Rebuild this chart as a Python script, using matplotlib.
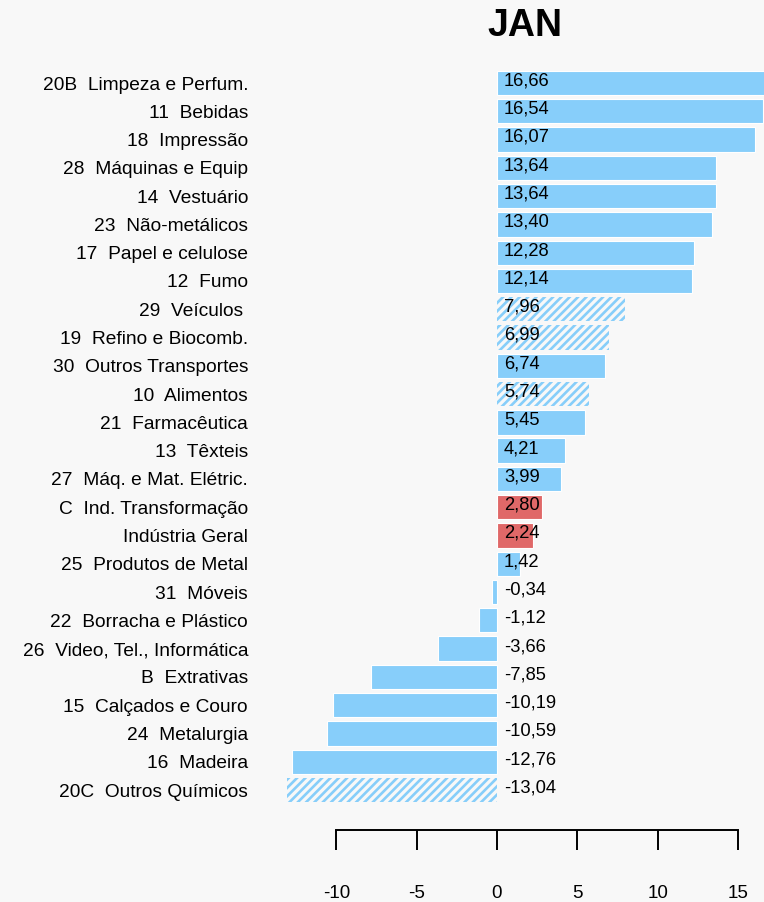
import matplotlib
matplotlib.use("Agg")
import matplotlib.pyplot as plt
import numpy as np

labels = ["20B  Limpeza e Perfum.", "11  Bebidas", "18  Impressão", "28  Máquinas e Equip",
          "14  Vestuário", "23  Não-metálicos", "17  Papel e celulose", "12  Fumo",
          "29  Veículos ", "19  Refino e Biocomb.", "30  Outros Transportes", "10  Alimentos",
          "21  Farmacêutica", "13  Têxteis", "27  Máq. e Mat. Elétric.", "C  Ind. Transformação",
          "Indústria Geral", "25  Produtos de Metal", "31  Móveis", "22  Borracha e Plástico",
          "26  Video, Tel., Informática", "B  Extrativas", "15  Calçados e Couro", "24  Metalurgia",
          "16  Madeira", "20C  Outros Químicos"]
values = [16.66, 16.54, 16.07, 13.64, 13.64, 13.40, 12.28, 12.14, 7.96, 6.99, 6.74, 5.74,
          5.45, 4.21, 3.99, 2.80, 2.24, 1.42, -0.34, -1.12, -3.66, -7.85, -10.19, -10.59,
          -12.76, -13.04]
hatched = ["29  Veículos ", "19  Refino e Biocomb.", "10  Alimentos", "20C  Outros Químicos"]
highlight = ["C  Ind. Transformação", "Indústria Geral"]
xticks = [-10, -5, 0, 5, 10, 15]
title = "JAN"

plt.rcParams['font.family'] = ['Liberation Sans', 'DejaVu Sans']
plt.rcParams['hatch.linewidth'] = 1.9

W, H = 764, 902
bg = '#f8f8f8'
blue = '#87cefa'
red = '#e06868'
fig = plt.figure(figsize=(W / 100, H / 100), dpi=100, facecolor=bg)

left_px, right_px, top_px, bot_px = 280, 764, 60, 830
ax = fig.add_axes([left_px / W, 1 - bot_px / H, (right_px - left_px) / W, (bot_px - top_px) / H])
ax.set_facecolor(bg)

x0_px, scale = 497, 16.07
ax.set_xlim((left_px - x0_px) / scale, (right_px - x0_px) / scale)
row0, rowstep = 83, 28.28
ax.set_ylim(0 + (bot_px - row0) / rowstep, 0 - (row0 - top_px) / rowstep)

y = np.arange(len(labels))
for i, (lab, v) in enumerate(zip(labels, values)):
    if lab in hatched:
        ax.barh(i, v, height=0.86, facecolor='none', edgecolor=blue, linewidth=0, hatch='////')
    else:
        col = red if lab in highlight else blue
        ax.barh(i, v, height=0.86, color=col, edgecolor='white', linewidth=0.8)
    ax.annotate(f"{v:.2f}".replace('.', ','), xy=(0, i), xytext=(5, 1.5), textcoords='offset points',
                ha='left', va='center', fontsize=13.2, color='black')

ax.set_yticks(y)
ax.set_yticklabels(labels, fontsize=13.8)
ax.tick_params(axis='y', length=0, pad=23)

for s in ['top', 'right', 'left']:
    ax.spines[s].set_visible(False)
ax.spines['bottom'].set_bounds(-10, 15)
ax.spines['bottom'].set_linewidth(1.4)
ax.set_xticks(xticks)
ax.set_xticklabels([str(t) for t in xticks], fontsize=13.5)
ax.tick_params(axis='x', direction='out', length=14.4, width=1.4, pad=25)

fig.text(525 / W, 1 - 26 / H, title, ha='center', va='center', fontsize=27, fontweight='bold')

fig.savefig('out.png', dpi=100, facecolor=bg)
